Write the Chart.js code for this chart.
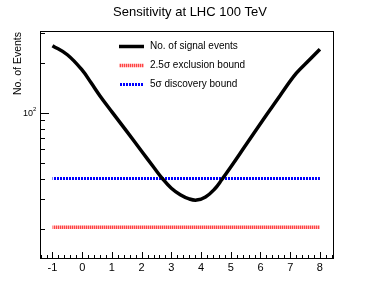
<!DOCTYPE html>
<html>
<head>
<meta charset="utf-8">
<script src="https://cdn.jsdelivr.net/npm/chart.js@4.4.1/dist/chart.umd.min.js"></script>
<style>
  html, body { margin: 0; padding: 0; background: #fff; }
</style>
</head>
<body>
<canvas id="sensChart" width="374" height="290"></canvas>
<script>
// Signal curve (x = model parameter, y = events)
const massPoints = [-1, -0.5, 0, 0.3, 0.6, 1, 1.5, 2, 2.4, 2.7, 3, 3.3, 3.6, 3.85, 4.15, 4.45, 4.7, 5, 5.5, 6.1, 6.65, 7.2, 7.65, 8];
const signalEvents = [253, 223, 180, 151, 126, 101, 77, 58.5, 47, 40, 35, 32, 30.2, 29.7, 31, 34.5, 39.5, 47, 63.5, 91, 126, 172, 208, 241];

// Flat bounds
const boundRange = [-1, 8];
const exclusionBound = 20.4;
const discoveryBound = 40;

// Axis ticks
const xMajorTicks = [-1, 0, 1, 2, 3, 4, 5, 6, 7, 8];
const yMajorTicks = [100];
const yMinorTicks = [20, 30, 40, 50, 60, 70, 80, 90, 200, 300];

const FONT = '"Liberation Sans", Arial, sans-serif';

// Column-stripe pattern to mimic ROOT's dotted line styles
function stripePattern(cols) {
    const c = document.createElement('canvas');
    c.width = cols.length;
    c.height = 1;
    const g = c.getContext('2d');
    cols.forEach((col, i) => {
        if (col) {
            g.fillStyle = col;
            g.fillRect(i, 0, 1, 1);
        }
    });
    return g.createPattern(c, 'repeat');
}

// Frame, ticks, labels and legend drawn ROOT-style
const rootStylePlugin = {
    id: 'rootStyle',
    afterDraw(chart) {
        const ctx = chart.ctx;
        const area = chart.chartArea;
        const xs = chart.scales.x;
        const ys = chart.scales.y;

        ctx.save();
        ctx.strokeStyle = '#000';
        ctx.lineWidth = 1;
        ctx.strokeRect(area.left + 0.5, area.top + 0.5, area.right - area.left, area.bottom - area.top);

        // x ticks (inside, pointing up)
        ctx.beginPath();
        for (let v = -1.4; v <= 8.41; v += 0.2) {
            const px = Math.round(xs.getPixelForValue(v)) + 0.5;
            const isMajor = Math.abs(v - Math.round(v)) < 0.01;
            ctx.moveTo(px, area.bottom);
            ctx.lineTo(px, area.bottom - (isMajor ? 6 : 3));
        }
        // y ticks (inside, pointing right)
        yMinorTicks.forEach(v => {
            const py = Math.round(ys.getPixelForValue(v)) + 0.5;
            ctx.moveTo(area.left, py);
            ctx.lineTo(area.left + 5, py);
        });
        yMajorTicks.forEach(v => {
            const py = Math.round(ys.getPixelForValue(v)) + 0.5;
            ctx.moveTo(area.left, py);
            ctx.lineTo(area.left + 9, py);
        });
        ctx.stroke();

        // x labels
        ctx.fillStyle = '#000';
        ctx.font = '11px ' + FONT;
        ctx.textAlign = 'center';
        ctx.textBaseline = 'top';
        xMajorTicks.forEach(v => {
            ctx.fillText(String(v), xs.getPixelForValue(v), area.bottom + 4);
        });

        // y label 10^2
        yMajorTicks.forEach(v => {
            const py = ys.getPixelForValue(v);
            ctx.font = '9px ' + FONT;
            ctx.textAlign = 'right';
            ctx.textBaseline = 'middle';
            ctx.fillText('10', area.left - 7, py + 1);
            ctx.font = '6px ' + FONT;
            ctx.textAlign = 'left';
            ctx.fillText('2', area.left - 7, py - 3);
        });

        // y axis title, right-aligned at top of frame
        ctx.save();
        ctx.translate(20.5, area.top + 1);
        ctx.rotate(-Math.PI / 2);
        ctx.font = '10.5px ' + FONT;
        ctx.textAlign = 'right';
        ctx.textBaseline = 'alphabetic';
        ctx.fillText('No. of Events', 0, 0);
        ctx.restore();

        // legend
        const legendX = 119, legendW = 25, textX = 150;
        const rows = [46, 65, 84];
        chart.data.datasets.forEach((ds, i) => {
            const y = rows[i];
            ctx.save();
            ctx.strokeStyle = ds.borderColor;
            ctx.lineWidth = ds.borderWidth;
            ctx.beginPath();
            ctx.moveTo(legendX, y + 0.5);
            ctx.lineTo(legendX + legendW, y + 0.5);
            ctx.stroke();
            ctx.restore();
            ctx.fillStyle = '#000';
            ctx.font = '10px ' + FONT;
            ctx.textAlign = 'left';
            ctx.textBaseline = 'middle';
            ctx.fillText(ds.label, textX, y);
        });

        // title
        ctx.font = '13px ' + FONT;
        ctx.textAlign = 'center';
        ctx.textBaseline = 'alphabetic';
        ctx.fillText('Sensitivity at LHC 100 TeV', 190, 16);
        ctx.restore();
    }
};

const toPoints = (xsArr, ysArr) => xsArr.map((x, i) => ({ x, y: ysArr[i] }));

new Chart(document.getElementById('sensChart'), {
    type: 'line',
    data: {
        datasets: [
            {
                label: 'No. of signal events',
                data: toPoints(massPoints, signalEvents),
                borderColor: '#000',
                borderWidth: 3.5,
                pointRadius: 0,
                tension: 0.4,
                fill: false,
                order: 0
            },
            {
                label: '2.5\u03c3 exclusion bound',
                data: boundRange.map(x => ({ x, y: exclusionBound })),
                borderColor: stripePattern(['#ff4444', '#ffb4b4']),
                borderWidth: 3.5,
                pointRadius: 0,
                fill: false,
                order: 2
            },
            {
                label: '5\u03c3 discovery bound',
                data: boundRange.map(x => ({ x, y: discoveryBound })),
                borderColor: stripePattern(['#0000ff', '#0000ff', null]),
                borderWidth: 3,
                pointRadius: 0,
                fill: false,
                order: 1
            }
        ]
    },
    options: {
        responsive: false,
        animation: false,
        layout: { padding: { left: 40, right: 41, top: 31, bottom: 32 } },
        plugins: {
            legend: { display: false },
            title: { display: false },
            tooltip: { enabled: false }
        },
        scales: {
            x: { type: 'linear', min: -1.42, max: 8.44, display: false },
            y: { type: 'logarithmic', min: 13.3, max: 310, display: false }
        }
    },
    plugins: [rootStylePlugin]
});
</script>
</body>
</html>
